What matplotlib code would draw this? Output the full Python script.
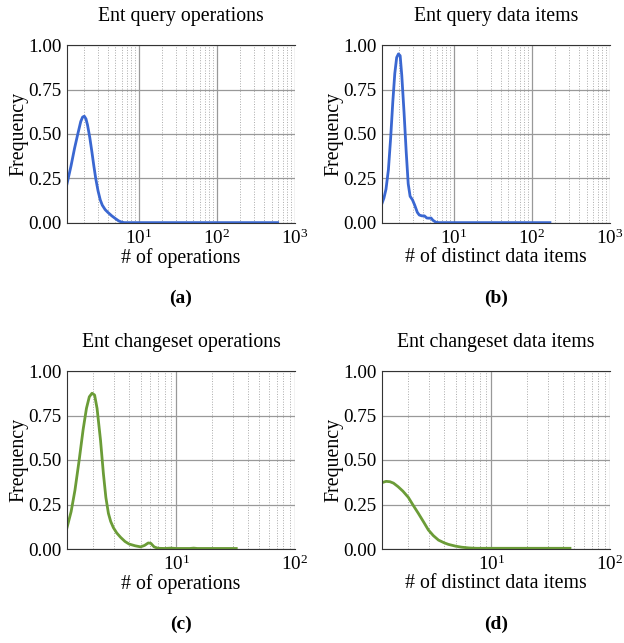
import matplotlib
matplotlib.use("Agg")
import matplotlib.pyplot as plt

plt.rcParams['font.family'] = ['Liberation Serif', 'DejaVu Serif']
plt.rcParams['mathtext.fontset'] = 'stix'

# (a) Ent query operations
qo_x = [1.2, 1.35, 1.5, 1.65, 1.8, 1.9, 2.0, 2.1, 2.2, 2.35, 2.5, 2.65, 2.8, 3.0, 3.2, 3.4, 3.7,
        4.0, 4.5, 5.0, 5.5, 6.0, 6.5, 10, 50, 200, 600]
qo_y = [0.22, 0.32, 0.42, 0.50, 0.57, 0.595, 0.60, 0.585, 0.55, 0.48, 0.40, 0.32, 0.25, 0.18, 0.13,
        0.10, 0.075, 0.06, 0.04, 0.025, 0.012, 0.005, 0.002, 0.002, 0.002, 0.002, 0.002]

# (b) Ent query data items
qd_x = [1.2, 1.27, 1.35, 1.45, 1.55, 1.65, 1.75, 1.85, 1.95, 2.05, 2.15, 2.3, 2.45, 2.6, 2.75,
        2.95, 3.15, 3.4, 3.6, 3.9, 4.2, 4.5, 4.8, 5.1, 5.4, 5.9, 6.5, 10, 50, 170]
qd_y = [0.11, 0.14, 0.19, 0.30, 0.48, 0.68, 0.84, 0.93, 0.95, 0.94, 0.83, 0.62, 0.40, 0.22, 0.15,
        0.13, 0.10, 0.06, 0.045, 0.04, 0.04, 0.028, 0.027, 0.028, 0.015, 0.004, 0.002, 0.002, 0.002, 0.002]

# (c) Ent changeset operations
co_x = [1.2, 1.3, 1.4, 1.52, 1.64, 1.75, 1.85, 1.95, 2.05, 2.15, 2.3, 2.43, 2.55, 2.68, 2.8, 2.95,
        3.15, 3.4, 3.7, 4.0, 4.5, 5.0, 5.4, 5.8, 6.1, 6.5, 7.0, 8.0, 9.0, 10.0, 13.0, 14.0, 15.0, 32]
co_y = [0.12, 0.21, 0.33, 0.50, 0.67, 0.79, 0.855, 0.875, 0.865, 0.79, 0.61, 0.425, 0.29, 0.20, 0.155,
        0.12, 0.09, 0.065, 0.042, 0.028, 0.018, 0.012, 0.02, 0.034, 0.032, 0.012, 0.004, 0.003, 0.005,
        0.003, 0.003, 0.005, 0.003, 0.003]

# (d) Ent changeset data items
cd_x = [1.2, 1.3, 1.4, 1.5, 1.64, 1.8, 2.0, 2.2, 2.43, 2.7, 2.95, 3.25, 3.59, 4.0, 4.35, 5.0, 5.65,
        6.5, 7.5, 10, 20, 46]
cd_y = [0.373, 0.38, 0.378, 0.37, 0.35, 0.325, 0.29, 0.245, 0.20, 0.15, 0.107, 0.075, 0.05, 0.035,
        0.026, 0.016, 0.01, 0.006, 0.004, 0.004, 0.004, 0.004]

blue = '#3a67d1'
green = '#6b9c37'

panels = [
    ('Ent query operations', '# of operations', qo_x, qo_y, blue, 1000, '(a)'),
    ('Ent query data items', '# of distinct data items', qd_x, qd_y, blue, 1000, '(b)'),
    ('Ent changeset operations', '# of operations', co_x, co_y, green, 100, '(c)'),
    ('Ent changeset data items', '# of distinct data items', cd_x, cd_y, green, 100, '(d)'),
]

W, H = 624, 643
fig = plt.figure(figsize=(W / 100, H / 100), dpi=100)

lefts = [67, 382, 67, 382]
tops = [45, 45, 371, 371]
aw, ah = 228, 178

for i, (title, xlabel, xs, ys, color, xmax, tag) in enumerate(panels):
    l, t = lefts[i], tops[i]
    ax = fig.add_axes([l / W, 1 - (t + ah) / H, aw / W, ah / H])
    ax.plot(xs, ys, color=color, lw=2.0, solid_joinstyle='round')
    ax.set_xscale('log')
    ax.set_xlim(1.2, xmax)
    ax.set_ylim(0, 1.0)
    ax.set_yticks([0, 0.25, 0.5, 0.75, 1.0])
    ax.set_yticklabels(['0.00', '0.25', '0.50', '0.75', '1.00'])
    ax.grid(True, which='major', color='#999999', lw=0.9)
    ax.grid(True, which='minor', axis='x', color='#aaaaaa', lw=0.7, ls=':')
    ax.set_axisbelow(True)
    ax.spines['right'].set_visible(False)
    for s in ['left', 'bottom', 'top']:
        ax.spines[s].set_color('#333333')
    ax.tick_params(which='both', length=0, labelsize=13.8, pad=4)
    ax.set_title(title, fontsize=14.3, pad=17)
    ax.set_xlabel(xlabel, fontsize=14.3, labelpad=0)
    ax.set_ylabel('Frequency', fontsize=14.3, labelpad=0)
    fig.text((l + aw / 2) / W, 1 - (t + ah + 75) / H, tag, ha='center', va='center',
             fontsize=14, fontweight='bold')

fig.savefig('out.png', dpi=100)
